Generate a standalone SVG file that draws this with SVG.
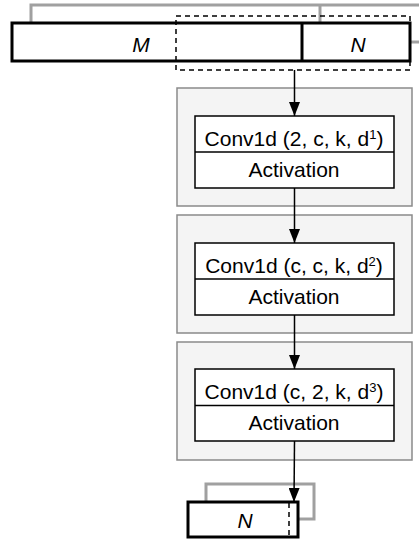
<svg xmlns="http://www.w3.org/2000/svg" width="419" height="539" viewBox="0 0 419 539">
<defs>
<marker id="ah" markerWidth="14" markerHeight="11" refX="14" refY="5.5" orient="auto" markerUnits="userSpaceOnUse">
<path d="M0,0 L14,5.5 L0,11 Z" fill="#000"/>
</marker>
<style>
.shadow{fill:none;stroke:#a0a0a0;stroke-width:3}
.bar{fill:#fff;stroke:#000;stroke-width:3}
.outer{fill:#f4f4f4;stroke:#8a8a8a;stroke-width:1.5}
.inner{fill:#fff;stroke:#000;stroke-width:1.5}
.dash{fill:none;stroke:#000;stroke-width:1.5;stroke-dasharray:5,4}
.lbl{font-family:"Liberation Sans",Arial,sans-serif;font-size:21px;text-anchor:middle;fill:#000}
.it{font-style:italic}
.sup{font-size:13px}
.conn{fill:none;stroke:#000;stroke-width:1.5;marker-end:url(#ah)}
</style>
</defs>
<g id="input">
<rect class="shadow" x="31" y="5" width="400" height="37"/>
<line class="shadow" x1="320" y1="5" x2="320" y2="23"/>
<rect class="bar" x="12" y="23" width="398" height="38"/>
<line class="bar" x1="302" y1="23" x2="302" y2="61"/>
<rect class="dash" x="176" y="16" width="234" height="54"/>
<text class="lbl it" x="141" y="51.5">M</text>
<text class="lbl it" x="358" y="51.5">N</text>
</g>
<g id="block1">
<rect class="outer" x="177" y="88" width="235" height="118"/>
<rect class="inner" x="195" y="116" width="199" height="72"/>
<line class="inner" x1="195" y1="152" x2="394" y2="152"/>
<text class="lbl" x="294" y="146">Conv1d (2, c, k, d<tspan class="sup" dy="-7">1</tspan><tspan dy="7">)</tspan></text>
<text class="lbl" x="294" y="177">Activation</text>
</g>
<g id="block2">
<rect class="outer" x="177" y="215" width="235" height="118"/>
<rect class="inner" x="195" y="243" width="199" height="72"/>
<line class="inner" x1="195" y1="279" x2="394" y2="279"/>
<text class="lbl" x="294" y="273">Conv1d (c, c, k, d<tspan class="sup" dy="-7">2</tspan><tspan dy="7">)</tspan></text>
<text class="lbl" x="294" y="304">Activation</text>
</g>
<g id="block3">
<rect class="outer" x="177" y="342" width="235" height="118"/>
<rect class="inner" x="195" y="369" width="199" height="72"/>
<line class="inner" x1="195" y1="405.5" x2="394" y2="405.5"/>
<text class="lbl" x="294" y="399">Conv1d (c, 2, k, d<tspan class="sup" dy="-7">3</tspan><tspan dy="7">)</tspan></text>
<text class="lbl" x="294" y="430">Activation</text>
</g>
<g id="output">
<rect class="shadow" x="206" y="484" width="108" height="35"/>
<rect class="bar" x="188" y="502" width="110" height="35"/>
<line class="dash" x1="289" y1="503" x2="289" y2="536" stroke-width="2"/>
<text class="lbl it" x="245" y="528">N</text>
</g>
<g id="connectors">
<line class="conn" x1="294.5" y1="70" x2="294.5" y2="116"/>
<line class="conn" x1="294.5" y1="188" x2="294.5" y2="243"/>
<line class="conn" x1="294.5" y1="315" x2="294.5" y2="369"/>
<line class="conn" x1="294.5" y1="441" x2="294" y2="502"/>
</g>
</svg>
